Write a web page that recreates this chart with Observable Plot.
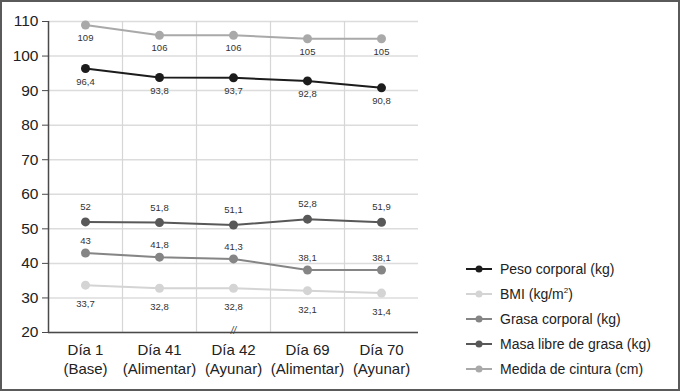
<!DOCTYPE html>
<html>
<head>
<meta charset="utf-8">
<script src="https://cdn.jsdelivr.net/npm/d3@7"></script>
<script src="https://cdn.jsdelivr.net/npm/@observablehq/plot@0.6"></script>
<style>
  html, body { margin: 0; padding: 0; background: #fff; }
  #wrap { position: relative; width: 680px; height: 391px; overflow: hidden; font-family: "Liberation Sans", Arial, Helvetica, sans-serif; }
  #wrap svg.plot { position: absolute; left: 0; top: 0; }
  #frame { position: absolute; inset: 0; border: 2px solid #5a5a5a; box-sizing: border-box; pointer-events: none; }
  #legend { position: absolute; left: 465px; top: 256px; font-size: 14px; color: #222; }
  .row { display: flex; align-items: center; height: 25px; }
  .row svg { margin-right: 7px; }
</style>
</head>
<body>
<div id="wrap"><div id="legend"></div><div id="frame"></div></div>
<script>
const categories = ["Día 1\n(Base)", "Día 41\n(Alimentar)", "Día 42\n(Ayunar)", "Día 69\n(Alimentar)", "Día 70\n(Ayunar)"];
const seriesNames = ["Peso corporal (kg)", "BMI (kg/m²)", "Grasa corporal (kg)", "Masa libre de grasa (kg)", "Medida de cintura (cm)"];
const peso = [96.4, 93.8, 93.7, 92.8, 90.8];
const bmi = [33.7, 32.8, 32.8, 32.1, 31.4];
const grasa = [43, 41.8, 41.3, 38.1, 38.1];
const masa = [52, 51.8, 51.1, 52.8, 51.9];
const cintura = [109, 106, 106, 105, 105];
const yTicks = [20, 30, 40, 50, 60, 70, 80, 90, 100, 110];

const seriesColors = ["#1c1c1c", "#d4d4d4", "#858585", "#585858", "#a9a9a9"];
const labelOffsets = [13, 19, -12, -15, 13];

const seriesValues = [peso, bmi, grasa, masa, cintura];
const idx = d3.range(categories.length);
const rows = [];
seriesValues.forEach((vals, s) => vals.forEach((v, i) => rows.push({series: seriesNames[s], s, i, value: v, label: String(v).replace(".", ",")})));

const W = 680, H = 391;
const font = "'Liberation Sans', Arial, Helvetica, sans-serif";

const drawOrder = [4, 3, 2, 1, 0];
const marks = [
  Plot.gridY(yTicks, {stroke: "#dcdcdc", strokeOpacity: 1, strokeWidth: 1.5}),
  Plot.ruleX(d3.range(1, categories.length).map(i => i - 0.5), {stroke: "#d6d6d6", strokeWidth: 1.2}),
  Plot.ruleY([yTicks[0]], {stroke: "#4a4a4a", strokeWidth: 1.5}),
  Plot.ruleX([-0.5], {stroke: "#4a4a4a", strokeWidth: 1.5}),
  Plot.axisY({ticks: yTicks, label: null, tickSize: 6, tickPadding: 4, fontSize: 15.5, stroke: "#4a4a4a", fill: "#222"}),
  Plot.text(idx, {x: d => d, frameAnchor: "bottom", dy: 9, lineAnchor: "top", text: d => categories[d], lineHeight: 1.27, fontSize: 15, fill: "#222"}),
  Plot.text([2], {x: d => d, frameAnchor: "bottom", text: () => "//", fontSize: 10, fontStyle: "italic", fill: "#444", dy: 1})
];
for (const s of drawOrder) {
  const data = rows.filter(r => r.s === s);
  marks.push(
    Plot.line(data, {x: "i", y: "value", stroke: seriesColors[s], strokeWidth: 2}),
    Plot.dot(data, {x: "i", y: "value", fill: seriesColors[s], r: 4.5}),
    Plot.text(data, {x: "i", y: "value", text: "label", dy: labelOffsets[s], fontSize: 9.5, fill: "#333"})
  );
}

const chart = Plot.plot({
  width: W, height: H,
  marginLeft: 48, marginRight: 262, marginTop: 21, marginBottom: 59,
  style: {fontFamily: font, background: "transparent", overflow: "visible"},
  x: {domain: [-0.5, categories.length - 0.5], axis: null},
  y: {domain: [20, 110], axis: null},
  marks
});
chart.classList.add("plot");
document.getElementById("wrap").prepend(chart);

const legend = d3.select("#legend");
seriesNames.forEach((name, s) => {
  const row = legend.append("div").attr("class", "row");
  const sv = row.append("svg").attr("width", 28).attr("height", 10);
  sv.append("line").attr("x1", 1).attr("x2", 27).attr("y1", 5).attr("y2", 5).attr("stroke", seriesColors[s]).attr("stroke-width", 2);
  sv.append("circle").attr("cx", 14).attr("cy", 5).attr("r", 3.5).attr("fill", seriesColors[s]);
  if (name.includes("²")) {
    const [a, b] = name.split("²");
    row.append("span").html(a + "<sup style='font-size:8px'>2</sup>" + b);
  } else {
    row.append("span").text(name);
  }
});
</script>
</body>
</html>
